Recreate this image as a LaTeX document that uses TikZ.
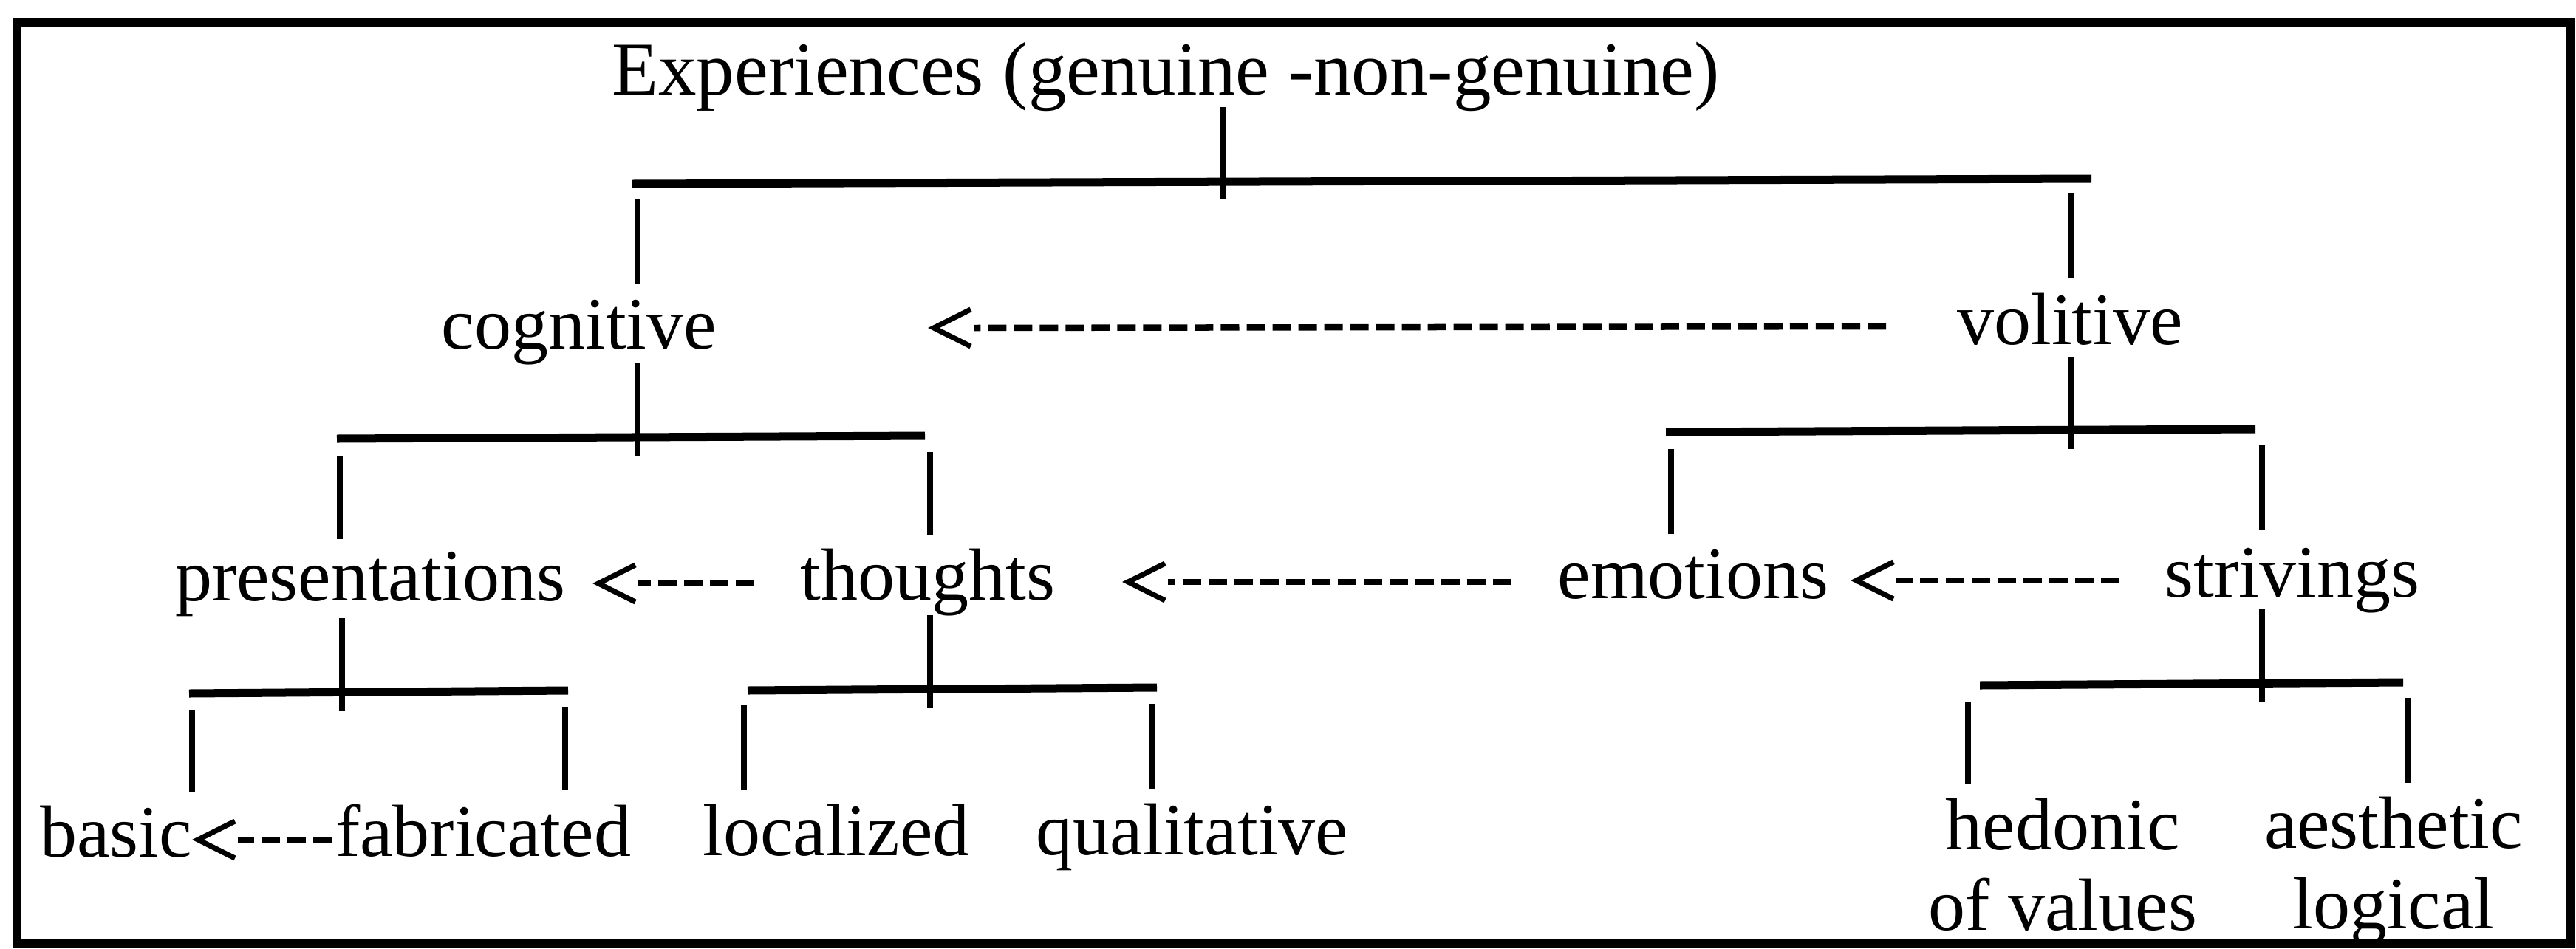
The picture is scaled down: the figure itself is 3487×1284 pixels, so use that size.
\documentclass[tikz,border=0pt]{standalone}
\usepackage{fontspec}
\setmainfont{Liberation Serif}
\begin{document}
\begin{tikzpicture}[x=0.01cm,y=-0.01cm,
  lbl/.style={inner sep=0pt, anchor=base, font=\fontsize{28.45pt}{31pt}\selectfont},
  vstem/.style={line width=0.085cm},
  hbar/.style={line width=0.11cm},
  framebox/.style={line width=0.12cm},
  dline/.style={line width=0.085cm, dash pattern=on 0.25cm off 0.1cm},
  chev/.style={line width=0.07cm, line join=miter}]
\useasboundingbox (0,0) rectangle (3487,1284);
\draw[framebox] (23,30) rectangle (3479,1278);

% labels
\node[lbl, font=\fontsize{29.3pt}{31pt}\selectfont] (exp) at (1578,128) {Experiences (genuine -non-genuine)};
\node[lbl] (cog) at (784,472) {cognitive};
\node[lbl] (vol) at (2802,466) {volitive};
\node[lbl] (pres) at (501,813) {presentations};
\node[lbl] (tho) at (1256,812) {thoughts};
\node[lbl] (emo) at (2292,810) {emotions};
\node[lbl] (str) at (3103,808) {strivings};
\node[lbl] (bas) at (157,1160) {basic};
\node[lbl] (fab) at (654,1159) {fabricated};
\node[lbl] (loc) at (1132,1158) {localized};
\node[lbl] (qua) at (1614,1157) {qualitative};
\node[lbl] (hed) at (2792,1150) {\begin{tabular}[t]{@{}c@{}}hedonic\\of values\end{tabular}};
\node[lbl] (aes) at (3240,1148) {\begin{tabular}[t]{@{}c@{}}aesthetic\\logical\end{tabular}};

% tree coordinates
\path (1655,145) coordinate (s0a) (1655,270) coordinate (s0b)
      (856,249) coordinate (b0l) (2831,242) coordinate (b0r)
      (863,270) coordinate (c0la) (863,385) coordinate (c0lb)
      (2804,262) coordinate (c0ra) (2804,377) coordinate (c0rb);
\path (863,492) coordinate (s1a) (863,617) coordinate (s1b)
      (456,594) coordinate (b1l) (1252,590) coordinate (b1r)
      (460,617) coordinate (c1la) (460,730) coordinate (c1lb)
      (1259,612) coordinate (c1ra) (1259,725) coordinate (c1rb);
\path (2804,483) coordinate (s2a) (2804,608) coordinate (s2b)
      (2255,585) coordinate (b2l) (3053,581) coordinate (b2r)
      (2262,608) coordinate (c2la) (2262,723) coordinate (c2lb)
      (3062,603) coordinate (c2ra) (3062,718) coordinate (c2rb);
\path (463,837) coordinate (s3a) (463,963) coordinate (s3b)
      (256,939) coordinate (b3l) (769,935) coordinate (b3r)
      (260,962) coordinate (c3la) (260,1073) coordinate (c3lb)
      (765,957) coordinate (c3ra) (765,1070) coordinate (c3rb);
\path (1259,833) coordinate (s4a) (1259,958) coordinate (s4b)
      (1012,935) coordinate (b4l) (1566,931) coordinate (b4r)
      (1007,955) coordinate (c4la) (1007,1070) coordinate (c4lb)
      (1559,953) coordinate (c4ra) (1559,1068) coordinate (c4rb);
\path (3062,825) coordinate (s5a) (3062,950) coordinate (s5b)
      (2680,928) coordinate (b5l) (3253,924) coordinate (b5r)
      (2664,950) coordinate (c5la) (2664,1062) coordinate (c5lb)
      (3260,945) coordinate (c5ra) (3260,1060) coordinate (c5rb);

\foreach \i in {0,...,5}{
  \draw[vstem] (s\i a) -- (s\i b);
  \draw[hbar] (b\i l) -- (b\i r);
  \draw[vstem] (c\i la) -- (c\i lb);
  \draw[vstem] (c\i ra) -- (c\i rb);
}

% dashed arrows (tail -> tip)
\path (2553,442) coordinate (a1e) (1318,444) coordinate (a1s) (1264,444) coordinate (a1t)
      (1021,790) coordinate (a2e) (864,790) coordinate (a2s) (810,790) coordinate (a2t)
      (2046,788) coordinate (a3e) (1581,788) coordinate (a3s) (1527,788) coordinate (a3t)
      (2869,786) coordinate (a4e) (2567,786) coordinate (a4s) (2513,786) coordinate (a4t)
      (449,1137) coordinate (a5e) (322,1137) coordinate (a5s) (268,1137) coordinate (a5t);
\foreach \i in {1,...,5}{
  \draw[dline] (a\i e) -- (a\i s);
  \draw[chev] ([shift={(50,-25)}]a\i t) -- (a\i t) -- ([shift={(50,25)}]a\i t);
}
\end{tikzpicture}
\end{document}
